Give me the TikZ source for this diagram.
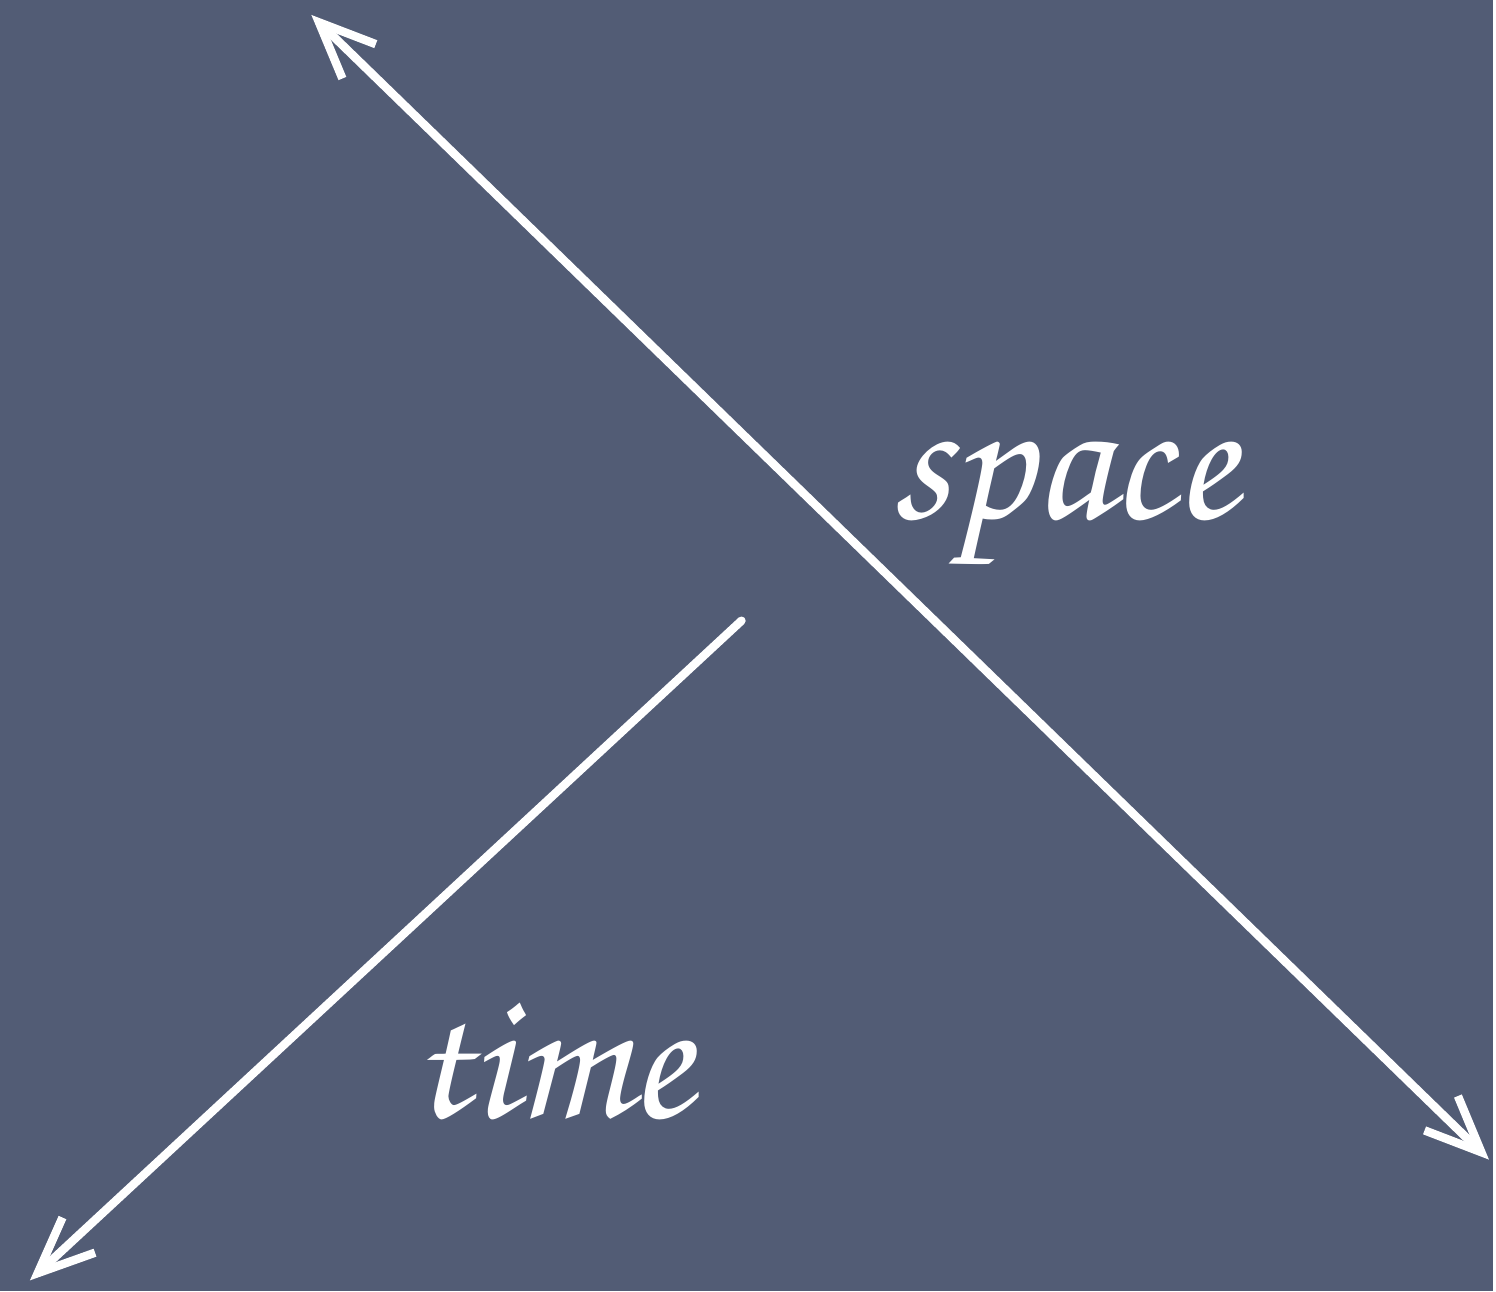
\documentclass[tikz,border=0pt]{standalone}
\usepackage[T1]{fontenc}
\usetikzlibrary{arrows.meta}
\definecolor{board}{RGB}{82,92,117}
\newcommand{\chalkfont}{\fontencoding{T1}\fontfamily{pzc}\fontseries{mb}\fontshape{it}\fontsize{53}{56}\selectfont}
\begin{document}
\begin{tikzpicture}[
        >={Straight Barb[length=0.56cm, width=0.48cm, line width=2.4pt]},
        chalk/.style={draw=white, line width=2.4pt, line cap=round},
        word/.style={text=white, inner sep=0pt, font=\chalkfont},
    ]
        % Board
        \fill[board] (0, 0) rectangle (14.96, 12.94);

        % Axis ends
        \coordinate (spacetop) at (3.12, 12.79);
        \coordinate (spacebottom) at (14.92, 1.32);
        \coordinate (timestart) at (7.43, 6.72);
        \coordinate (timeend) at (0.30, 0.11);

        % Space axis
        \draw[chalk, <->] (spacetop) -- (spacebottom);

        % Time axis
        \draw[chalk, ->] (timestart) -- (timeend);

        % Labels
        \node[word] (space) at (10.66, 7.86) {space};
        \node[word] (time) at (5.52, 2.30) {time};
    \end{tikzpicture}
\end{document}
